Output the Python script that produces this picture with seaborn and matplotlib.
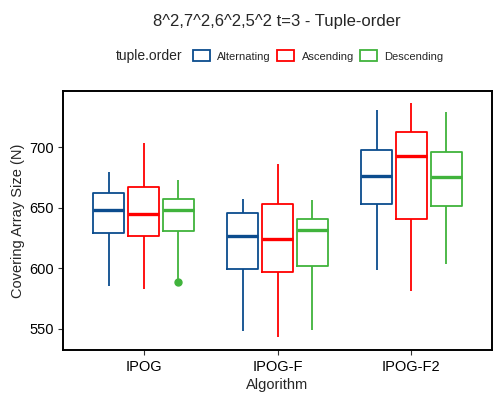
import pandas as pd
import matplotlib
matplotlib.use('Agg')
import matplotlib.pyplot as plt
import seaborn as sns

algorithms = ['IPOG', 'IPOG-F', 'IPOG-F2']
orders = ['Alternating', 'Ascending', 'Descending']

# five-number summaries, per algorithm, per order
lows = {'Alternating': [585.5, 547.7, 598.5],
        'Ascending':   [582.5, 542.7, 581.3],
        'Descending':  [591.0, 548.8, 603.4]}
q1s = {'Alternating': [628.9, 599.0, 653.4],
       'Ascending':   [626.6, 596.8, 640.5],
       'Descending':  [630.5, 601.8, 651.5]}
medians = {'Alternating': [648.4, 626.4, 676.1],
           'Ascending':   [645.1, 624.4, 692.9],
           'Descending':  [648.4, 631.9, 675.5]}
q3s = {'Alternating': [662.5, 645.6, 698.2],
       'Ascending':   [667.5, 653.3, 712.5],
       'Descending':  [657.5, 640.7, 696.3]}
highs = {'Alternating': [679.4, 657.2, 731.0],
         'Ascending':   [703.4, 686.3, 737.1],
         'Descending':  [673.0, 656.2, 729.1]}
outliers = {('IPOG', 'Descending'): [588.3]}

colors = {'Alternating': '#0B4C8E', 'Ascending': '#FF0000', 'Descending': '#40B33C'}


def box_sample(lo, q1, med, q3, hi, out):
    if not out:
        return [lo, q1, med, q3, hi]
    # one flier: 9 points keep quartiles at index 2, 4, 6
    return out + [lo, q1, q1, med, q3, q3, hi, hi]


rows = []
for o in orders:
    for i, a in enumerate(algorithms):
        vals = box_sample(lows[o][i], q1s[o][i], medians[o][i], q3s[o][i], highs[o][i],
                          outliers.get((a, o), []))
        for v in vals:
            rows.append({'Algorithm': a, 'tuple.order': o, 'N': v})
df = pd.DataFrame(rows)

sns.set_style('ticks')
plt.rcParams['font.family'] = ['Liberation Sans', 'DejaVu Sans']

fig = plt.figure(figsize=(5, 4), dpi=100)
ax = fig.add_axes([0.1266, 0.125, 0.8568, 0.6475])

sns.boxplot(data=df, x='Algorithm', y='N', hue='tuple.order', order=algorithms,
            hue_order=orders, palette=colors, fill=False, width=0.78, gap=0.1,
            whis=1.5, showcaps=False, linewidth=1.3,
            medianprops=dict(linewidth=2.4),
            flierprops=dict(marker='o', markersize=5), ax=ax, legend=True)

for ln in ax.lines:
    if ln.get_marker() == 'o':
        ln.set_markerfacecolor(ln.get_markeredgecolor())

ax.set_xlim(-0.6, 2.6)
ax.set_ylim(532.2, 746.8)
ax.set_yticks([550, 600, 650, 700])
ax.set_xlabel('Algorithm', fontsize=10.5, labelpad=3)
ax.set_ylabel('Covering Array Size (N)', fontsize=10.5, labelpad=3)
ax.tick_params(labelsize=10.5, length=3.5, width=0.8, color='#333333', labelcolor='black')
for s in ax.spines.values():
    s.set_visible(True)
    s.set_linewidth(1.4)
    s.set_color('black')

handles, labels = ax.get_legend_handles_labels()
ax.get_legend().remove()
fig.legend(handles, labels, ncol=3, loc='center left', bbox_to_anchor=(0.366, 0.86),
           frameon=False, fontsize=8, handlelength=1.5, handleheight=1.1,
           handletextpad=0.7, columnspacing=0.55)
fig.text(0.232, 0.86, 'tuple.order', fontsize=10, va='center', ha='left')

fig.suptitle('8^2,7^2,6^2,5^2 t=3 - Tuple-order', x=0.554, y=0.965, fontsize=12)

fig.savefig('out.png', dpi=100)
